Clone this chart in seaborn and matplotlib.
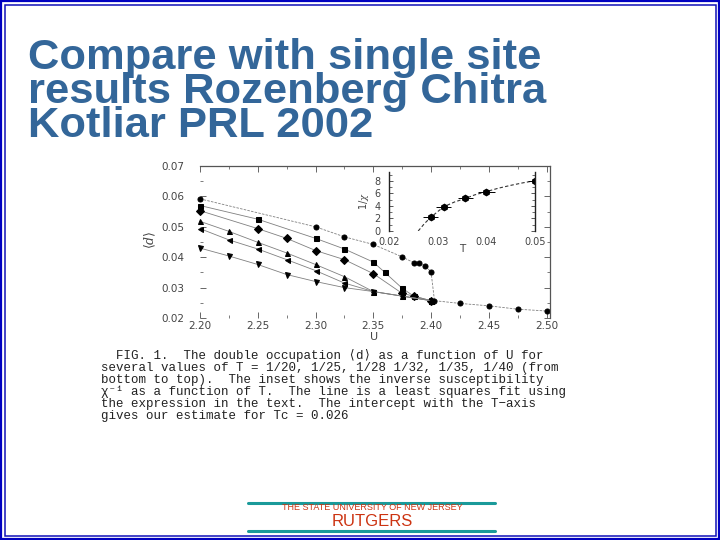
import numpy as np
import pandas as pd
import matplotlib
matplotlib.use("Agg")
import matplotlib.pyplot as plt
import seaborn as sns
from matplotlib.patches import Rectangle
from matplotlib.lines import Line2D

# ---------------- data ----------------
# double occupation <d> vs U, one list per temperature (top to bottom at U=2.20)
u_t40 = [2.20, 2.30, 2.325, 2.35, 2.375, 2.385, 2.39, 2.395, 2.40, 2.403, 2.425, 2.45, 2.475, 2.50]
d_t40 = [0.0592, 0.0500, 0.0467, 0.0442, 0.0401, 0.0382, 0.0380, 0.0371, 0.0352, 0.0257, 0.0248, 0.0240, 0.0229, 0.0223]

u_t35 = [2.20, 2.25, 2.30, 2.325, 2.35, 2.36, 2.375, 2.385, 2.40]
d_t35 = [0.0570, 0.0525, 0.0462, 0.0427, 0.0384, 0.0350, 0.0298, 0.0272, 0.0257]

u_t32 = [2.20, 2.25, 2.275, 2.30, 2.325, 2.35, 2.375, 2.385, 2.40]
d_t32 = [0.0553, 0.0494, 0.0462, 0.0422, 0.0392, 0.0346, 0.0281, 0.0272, 0.0257]

u_t28 = [2.20, 2.225, 2.25, 2.275, 2.30, 2.325, 2.35, 2.375, 2.40]
d_t28 = [0.0518, 0.0485, 0.0449, 0.0414, 0.0376, 0.0336, 0.0287, 0.0272, 0.0257]

u_t25 = [2.20, 2.225, 2.25, 2.275, 2.30, 2.325, 2.35, 2.375, 2.40]
d_t25 = [0.0494, 0.0457, 0.0427, 0.0392, 0.0356, 0.0315, 0.0287, 0.0272, 0.0257]

u_t20 = [2.20, 2.225, 2.25, 2.275, 2.30, 2.325, 2.35, 2.375, 2.40]
d_t20 = [0.0430, 0.0404, 0.0376, 0.0343, 0.0320, 0.0300, 0.0287, 0.0272, 0.0257]

series_names = ["1/40", "1/35", "1/32", "1/28", "1/25", "1/20"]
series_markers = ["o", "s", "D", "^", "<", "v"]

# inset: inverse susceptibility vs T
t_inset = [1/35, 1/32, 1/28, 1/25, 1/20]
chi_inv = [2.2, 3.9, 5.2, 6.3, 8.0]
t_err = [0.0015, 0.0015, 0.0015, 0.0018, 0.0015]
fit_t = [0.026, 0.0273, 0.0286, 0.0300, 0.0313, 0.0335, 0.0357, 0.0375, 0.0400, 0.0425, 0.0450, 0.0475, 0.0500]
fit_chi = [0.0, 1.2, 2.2, 3.1, 3.9, 4.65, 5.2, 5.75, 6.3, 6.85, 7.3, 7.7, 8.05]

title_lines = ["Compare with single site", "results Rozenberg Chitra", "Kotliar PRL 2002"]
caption = [
    "  FIG. 1.  The double occupation \u27e8d\u27e9 as a function of U for",
    "several values of T = 1/20, 1/25, 1/28 1/32, 1/35, 1/40 (from",
    "bottom to top).  The inset shows the inverse susceptibility",
    "\u03c7\u207b\u00b9 as a function of T.  The line is a least squares fit using",
    "the expression in the text.  The intercept with the T\u2212axis",
    "gives our estimate for Tc = 0.026",
]

# ---------------- build long table ----------------
frames = []
for name, u, d in zip(series_names,
                      [u_t40, u_t35, u_t32, u_t28, u_t25, u_t20],
                      [d_t40, d_t35, d_t32, d_t28, d_t25, d_t20]):
    frames.append(pd.DataFrame({"U": u, "d": d, "T": name}))
df = pd.concat(frames, ignore_index=True)

sns.set_theme(style="white")
plt.rcParams["font.family"] = ["DejaVu Sans"]
plt.rcParams["mathtext.fontset"] = "dejavuserif"

fig = plt.figure(figsize=(7.2, 5.4), dpi=100)
W, H = 720.0, 540.0

# slide border (double blue line)
fig.add_artist(Rectangle((1.2 / W, 1.2 / H), 1 - 2.4 / W, 1 - 2.4 / H, transform=fig.transFigure,
                         fill=False, ec="#0000c0", lw=1.6))
fig.add_artist(Rectangle((4.5 / W, 4.5 / H), 1 - 9 / W, 1 - 9 / H, transform=fig.transFigure,
                         fill=False, ec="#1010b8", lw=1.1))

# title as one block
fig.text(28 / W, 1 - 38 / H, "\n".join(title_lines), fontsize=31.3, fontweight="bold",
         family=["Liberation Sans", "DejaVu Sans"], color="#336699", va="top", ha="left",
         linespacing=0.81)

# ---------------- main plot ----------------
ax = fig.add_axes([200 / W, 1 - 318 / H, 350 / W, 152 / H])
sns.lineplot(data=df, x="U", y="d", hue="T", style="T", hue_order=series_names, style_order=series_names,
             markers=series_markers, dashes=False, palette=["#808080"] * 6, estimator=None,
             legend=False, lw=0.6, ax=ax, markersize=3.6)
for ln in ax.lines:
    ln.set_markerfacecolor("black")
    ln.set_markeredgecolor("black")
    ln.set_clip_on(False)
# dashed drop of the top curve
ax.lines[0].set_linestyle((0, (3, 1.5)))

ax.set_xlim(2.20, 2.503)
ax.set_ylim(0.02, 0.07)
ax.set_xticks([2.20, 2.25, 2.30, 2.35, 2.40, 2.45, 2.50])
ax.set_xticklabels(["2.20", "2.25", "2.30", "2.35", "2.40", "2.45", "2.50"])
ax.set_yticks([0.02, 0.03, 0.04, 0.05, 0.06, 0.07])
ax.set_yticklabels(["0.02", "0.03", "0.04", "0.05", "0.06", "0.07"])
ax.set_xticks(np.arange(2.225, 2.5, 0.05), minor=True)
ax.set_yticks(np.arange(0.025, 0.07, 0.01), minor=True)
ax.tick_params(which="both", direction="in", color="#666666", labelcolor="#444444", labelsize=7.5,
               top=True, right=True, bottom=True, left=True)
ax.tick_params(which="major", length=4, width=0.7)
ax.tick_params(which="minor", length=2.5, width=0.6)
ax.tick_params(axis="y", pad=11)
ax.tick_params(axis="x", pad=2)
for side in ["left", "bottom"]:
    ax.spines[side].set_visible(False)
for side in ["top", "right"]:
    ax.spines[side].set_color("#555555")
    ax.spines[side].set_linewidth(0.9)
ax.set_xlabel("")
ax.set_ylabel("")
ax.patch.set_alpha(0)
fig.text(150 / W, 1 - 240 / H, r"$\langle d\rangle$", rotation=90, fontsize=9, color="#444444",
         ha="center", va="center")
fig.text(374 / W, 1 - 337 / H, "U", fontsize=8, color="#444444", ha="center", va="center")

# ---------------- inset ----------------
ins = fig.add_axes([389 / W, 1 - 231 / H, 146 / W, 59.4 / H])
ins.patch.set_alpha(0)
sns.lineplot(x=fit_t, y=fit_chi, ax=ins, color="#333333", lw=0.8, linestyle=(0, (3, 2)), sort=False)
ins.errorbar(t_inset, chi_inv, xerr=t_err, fmt="h", color="black", ms=4.5, elinewidth=0.7, capsize=0)
ins.set_xlim(0.02, 0.05)
ins.set_ylim(0, 9.5)
ins.set_xticks([0.02, 0.03, 0.04, 0.05])
ins.set_xticklabels(["0.02", "0.03", "0.04", "0.05"])
ins.set_yticks([0, 2, 4, 6, 8])
ins.set_yticklabels(["0", "2", "4", "6", "8"])
ins.set_yticks([1, 3, 5, 7, 9], minor=True)
ins.tick_params(which="both", direction="in", color="#555555", labelcolor="#444444", labelsize=7,
                left=True, right=True, bottom=False)
ins.tick_params(which="major", length=3, width=0.7)
ins.tick_params(which="minor", length=2, width=0.6)
ins.tick_params(axis="x", pad=4)
ins.tick_params(axis="y", pad=6)
for side in ["top", "bottom"]:
    ins.spines[side].set_visible(False)
for side in ["left", "right"]:
    ins.spines[side].set_color("#222222")
    ins.spines[side].set_linewidth(1.0)
ins.set_xlabel("")
ins.set_ylabel("")
fig.text(364 / W, 1 - 201 / H, r"1/$\chi$", rotation=90, fontsize=7, color="#444444", ha="center", va="center")
fig.text(462 / W, 1 - 249 / H, "T", fontsize=7.5, color="#444444", ha="center", va="center")

# ---------------- caption (one block of text) ----------------
fig.text(101 / W, 1 - 349 / H, "\n".join(caption), fontsize=9,
         family=["Liberation Mono", "DejaVu Sans Mono", "DejaVu Sans"],
         color="#222222", ha="left", va="top", linespacing=1.0)

# ---------------- logo ----------------
fig.add_artist(Line2D([248 / W, 495 / W], [1 - 503 / H, 1 - 503 / H], color="#1a9a9a", lw=2.2))
fig.add_artist(Line2D([248 / W, 495 / W], [1 - 531 / H, 1 - 531 / H], color="#1a9a9a", lw=2.2))
fig.text(372 / W, 1 - 507 / H, "THE STATE UNIVERSITY OF NEW JERSEY", fontsize=6.5, color="#cc3311",
         ha="center", va="center", family=["Liberation Sans", "DejaVu Sans"])
fig.text(372 / W, 1 - 522 / H, "RUTGERS", fontsize=12, color="#cc3311",
         ha="center", va="center", family=["Liberation Sans", "DejaVu Sans"])

fig.savefig("out.png", dpi=100)
